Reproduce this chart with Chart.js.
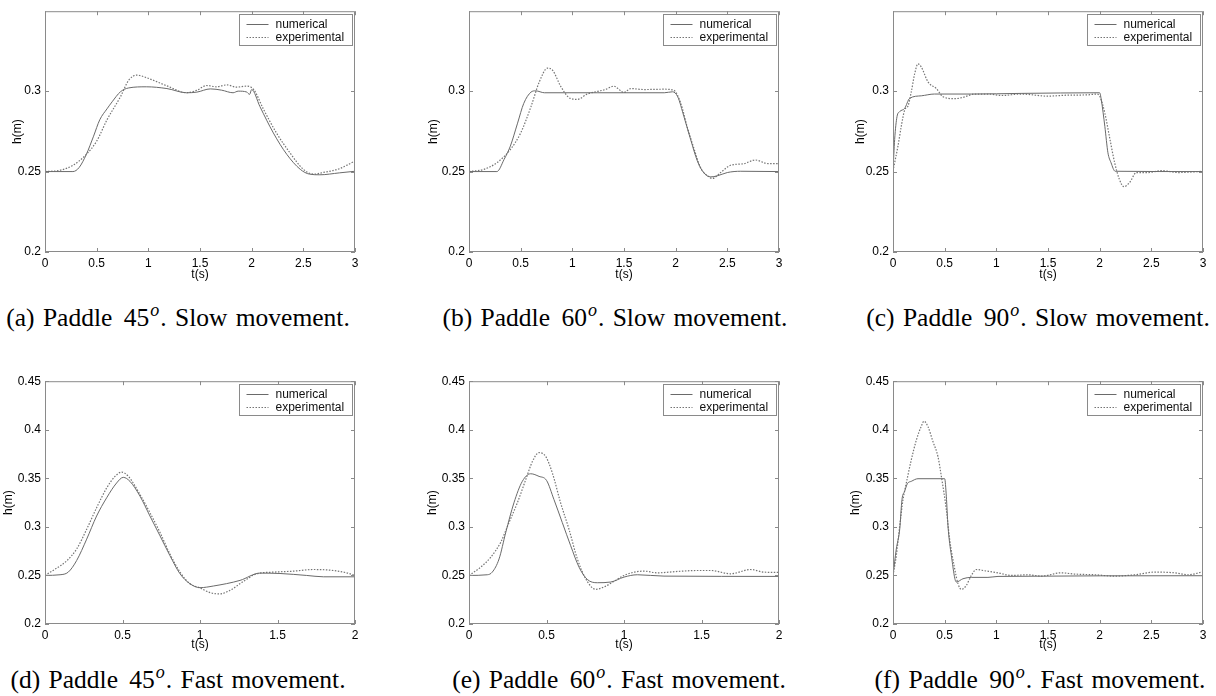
<!DOCTYPE html>
<html>
<head>
<meta charset="utf-8">
<script src="https://cdn.jsdelivr.net/npm/chart.js@4/dist/chart.umd.min.js"></script>
<style>
  body { margin: 0; background: #fff; width: 1216px; height: 696px; position: relative; overflow: hidden; }
  canvas { position: absolute; }
  .cap { position: absolute; font-family: "Liberation Serif", serif; font-size: 25.5px; line-height: 26px;
         word-spacing: 2px; white-space: nowrap; transform: translateX(-50%); color: #000; }
  .cap .num { margin-left: 3px; }
  .cap .deg { font-style: italic; font-size: 18px; position: relative; top: -10px; margin-left: 1px; margin-right: 1px; }
</style>
</head>
<body>
<script>
// wave height h(m) at the gauge, t in seconds
const slow45NumT = [0, 0.27, 0.33, 0.40, 0.47, 0.53, 0.60, 0.65, 0.73, 0.81, 0.98, 1.18, 1.37, 1.47, 1.60, 1.71, 1.82, 1.87, 1.95, 1.98, 2.0, 2.08, 2.21, 2.34, 2.47, 2.56, 2.66, 2.85, 3.0]
const slow45Num = [0.25, 0.25, 0.2525, 0.2607, 0.272, 0.2822, 0.289, 0.2934, 0.2996, 0.302, 0.3027, 0.3016, 0.299, 0.2994, 0.3014, 0.3006, 0.299, 0.3, 0.2995, 0.298, 0.301, 0.2904, 0.274, 0.2607, 0.2514, 0.2484, 0.248, 0.2492, 0.2502]
const slow45ExpT = [0, 0.145, 0.27, 0.40, 0.50, 0.60, 0.73, 0.81, 0.89, 0.98, 1.18, 1.37, 1.47, 1.565, 1.66, 1.76, 1.85, 1.95, 2.02, 2.11, 2.24, 2.37, 2.5, 2.6, 2.69, 2.85, 3.0]
const slow45Exp = [0.25, 0.2508, 0.2539, 0.2607, 0.2689, 0.2822, 0.2965, 0.3068, 0.31, 0.3084, 0.3033, 0.299, 0.3006, 0.3035, 0.3027, 0.3039, 0.3025, 0.3031, 0.301, 0.2893, 0.274, 0.2617, 0.2514, 0.2484, 0.2494, 0.2518, 0.2566]

const slow60NumT = [0, 0.27, 0.34, 0.40, 0.47, 0.53, 0.60, 0.645, 0.73, 1.24, 1.89, 1.97, 2.02, 2.08, 2.145, 2.21, 2.27, 2.34, 2.40, 2.5, 2.63, 3.0]
const slow60Num = [0.25, 0.25, 0.2576, 0.2658, 0.2801, 0.2924, 0.2994, 0.3002, 0.299, 0.299, 0.299, 0.2996, 0.2965, 0.2842, 0.2699, 0.2566, 0.2494, 0.2467, 0.2473, 0.2494, 0.2502, 0.25]
const slow60ExpT = [0, 0.145, 0.27, 0.40, 0.50, 0.60, 0.68, 0.76, 0.81, 0.89, 0.98, 1.05, 1.145, 1.24, 1.32, 1.40, 1.50, 1.565, 1.69, 1.89, 1.98, 2.05, 2.11, 2.18, 2.24, 2.31, 2.355, 2.435, 2.53, 2.66, 2.77, 2.89, 3.0]
const slow60Exp = [0.25, 0.2514, 0.2555, 0.2637, 0.274, 0.2904, 0.3057, 0.3143, 0.3129, 0.3027, 0.2955, 0.2949, 0.2982, 0.2998, 0.301, 0.3031, 0.2992, 0.3016, 0.301, 0.3012, 0.3006, 0.2924, 0.2781, 0.2637, 0.2525, 0.2473, 0.2457, 0.2494, 0.2539, 0.2549, 0.2572, 0.255, 0.255]

const slow90NumT = [0, 0.016, 0.039, 0.065, 0.113, 0.161, 0.274, 0.40, 0.76, 1.24, 2.0, 2.016, 2.05, 2.08, 2.11, 2.15, 3.0]
const slow90Num = [0.25, 0.27, 0.2842, 0.2873, 0.2893, 0.2955, 0.2971, 0.2982, 0.2982, 0.2986, 0.299, 0.2945, 0.2781, 0.2617, 0.2555, 0.2502, 0.25]
const slow90ExpT = [0, 0.016, 0.048, 0.08, 0.113, 0.145, 0.177, 0.21, 0.242, 0.274, 0.339, 0.42, 0.484, 0.597, 0.677, 0.79, 0.919, 1.05, 1.24, 1.5, 1.69, 1.89, 1.97, 2.0, 2.05, 2.10, 2.145, 2.19, 2.235, 2.29, 2.355, 2.47, 2.6, 2.76, 3.0]
const slow90Exp = [0.2504, 0.2555, 0.2658, 0.2781, 0.2883, 0.2908, 0.2996, 0.3109, 0.317, 0.315, 0.3057, 0.3016, 0.2965, 0.2953, 0.2961, 0.2982, 0.2982, 0.2973, 0.2982, 0.2969, 0.2975, 0.2977, 0.2982, 0.2969, 0.2863, 0.2699, 0.2555, 0.2453, 0.2406, 0.2432, 0.2494, 0.2494, 0.2506, 0.2494, 0.2502]

const fast45NumT = [0, 0.097, 0.15, 0.204, 0.269, 0.333, 0.398, 0.462, 0.505, 0.548, 0.613, 0.677, 0.742, 0.806, 0.871, 0.935, 1.0, 1.086, 1.258, 1.387, 1.516, 1.688, 1.796, 2.0]
const fast45Num = [0.25, 0.2507, 0.2534, 0.2653, 0.2874, 0.3112, 0.33, 0.3452, 0.351, 0.3469, 0.3316, 0.3112, 0.2908, 0.2704, 0.2517, 0.2415, 0.2374, 0.2391, 0.2449, 0.2524, 0.252, 0.25, 0.2486, 0.2486]
const fast45ExpT = [0, 0.075, 0.14, 0.204, 0.269, 0.333, 0.398, 0.452, 0.495, 0.538, 0.613, 0.677, 0.742, 0.806, 0.871, 0.935, 1.0, 1.065, 1.129, 1.194, 1.28, 1.366, 1.473, 1.602, 1.731, 1.86, 1.946, 2.0]
const fast45Exp = [0.25, 0.2575, 0.265, 0.2772, 0.2976, 0.3197, 0.3401, 0.352, 0.3564, 0.352, 0.3333, 0.3146, 0.2942, 0.2721, 0.2534, 0.2415, 0.2371, 0.2323, 0.231, 0.2347, 0.2439, 0.2517, 0.2534, 0.2544, 0.2561, 0.2551, 0.2527, 0.25]

const fast60NumT = [0, 0.118, 0.15, 0.194, 0.237, 0.29, 0.344, 0.398, 0.452, 0.5, 0.548, 0.602, 0.656, 0.71, 0.763, 0.828, 0.914, 1.0, 1.086, 1.258, 2.0]
const fast60Num = [0.25, 0.2507, 0.2534, 0.267, 0.2942, 0.3248, 0.3469, 0.3547, 0.352, 0.3479, 0.3282, 0.3044, 0.2806, 0.2585, 0.2459, 0.2425, 0.2432, 0.2483, 0.2507, 0.2493, 0.249]
const fast60ExpT = [0, 0.075, 0.14, 0.204, 0.258, 0.312, 0.366, 0.409, 0.452, 0.495, 0.538, 0.591, 0.645, 0.699, 0.753, 0.817, 0.871, 0.935, 1.0, 1.065, 1.129, 1.215, 1.344, 1.473, 1.559, 1.688, 1.817, 1.903, 2.0]
const fast60Exp = [0.25, 0.2585, 0.2687, 0.284, 0.3044, 0.3248, 0.3486, 0.3673, 0.3765, 0.3724, 0.3554, 0.3248, 0.2976, 0.267, 0.2466, 0.2357, 0.2381, 0.2439, 0.25, 0.2534, 0.2544, 0.2527, 0.2541, 0.2551, 0.2551, 0.2517, 0.2561, 0.2534, 0.2531]

const fast90NumT = [0, 0.032, 0.065, 0.087, 0.113, 0.139, 0.177, 0.242, 0.5, 0.516, 0.532, 0.565, 0.613, 0.677, 0.758, 0.919, 1.016, 3.0]
const fast90Num = [0.25, 0.2772, 0.2976, 0.3282, 0.3367, 0.3445, 0.3469, 0.3496, 0.3496, 0.3316, 0.301, 0.2704, 0.2432, 0.2466, 0.248, 0.248, 0.249, 0.2497]
const fast90ExpT = [0, 0.032, 0.065, 0.097, 0.129, 0.177, 0.226, 0.274, 0.3, 0.339, 0.387, 0.435, 0.468, 0.516, 0.548, 0.597, 0.629, 0.661, 0.71, 0.758, 0.806, 0.887, 1.016, 1.145, 1.306, 1.435, 1.629, 1.758, 1.952, 2.145, 2.339, 2.532, 2.726, 2.855, 3.0]
const fast90Exp = [0.25, 0.2704, 0.301, 0.3282, 0.3452, 0.369, 0.3894, 0.4037, 0.4088, 0.403, 0.3877, 0.3724, 0.352, 0.318, 0.2874, 0.2568, 0.2415, 0.2357, 0.2398, 0.25, 0.2561, 0.2548, 0.2527, 0.25, 0.2507, 0.2493, 0.2527, 0.2514, 0.2507, 0.2493, 0.2507, 0.2534, 0.2527, 0.2507, 0.2537]

// axis ticks
const ticksT3 = [0, 0.5, 1, 1.5, 2, 2.5, 3]
const ticksT2 = [0, 0.5, 1, 1.5, 2]
const ticksHSlow = [0.2, 0.25, 0.3]
const ticksHFast = [0.2, 0.25, 0.3, 0.35, 0.4, 0.45]

const seriesNames = ['numerical', 'experimental']

const LINE = '#6a6a6a'
const DOTS = '#747474'
const FRAME = '#8a8a8a'
const SANS = '"Liberation Sans", Arial, sans-serif'

// box, inward ticks and legend the way the old matlab plots look
const matlabFrame = {
  id: 'matlabFrame',
  afterDraw(chart) {
    const { ctx, chartArea: a, scales } = chart
    ctx.save()
    ctx.strokeStyle = FRAME
    ctx.lineWidth = 1
    ctx.strokeRect(a.left + 0.5, a.top + 0.5, a.width - 1, a.height - 1)
    ctx.beginPath()
    scales.x.ticks.forEach(t => {
      let px = Math.round(scales.x.getPixelForValue(t.value)) + 0.5
      ctx.moveTo(px, a.bottom); ctx.lineTo(px, a.bottom - 4)
      ctx.moveTo(px, a.top); ctx.lineTo(px, a.top + 4)
    })
    scales.y.ticks.forEach(t => {
      let py = Math.round(scales.y.getPixelForValue(t.value)) + 0.5
      ctx.moveTo(a.left, py); ctx.lineTo(a.left + 4, py)
      ctx.moveTo(a.right, py); ctx.lineTo(a.right - 4, py)
    })
    ctx.stroke()

    // legend box
    let bx = Math.round(a.right - 116) + 0.5
    let by = Math.round(a.top + 3) + 0.5
    ctx.fillStyle = '#fff'
    ctx.fillRect(bx, by, 113, 31)
    ctx.strokeRect(bx, by, 113, 31)
    ctx.font = '12px ' + SANS
    ctx.textBaseline = 'middle'
    chart.data.datasets.forEach((ds, i) => {
      let y = Math.round(by + 9 + i * 13.5) + 0.5
      ctx.strokeStyle = ds.borderColor
      ctx.setLineDash(ds.borderDash || [])
      ctx.beginPath()
      ctx.moveTo(bx + 7, y); ctx.lineTo(bx + 29, y)
      ctx.stroke()
      ctx.setLineDash([])
      ctx.fillStyle = '#111'
      ctx.fillText(ds.label, bx + 36, y)
    })
    ctx.restore()
  }
}

function pts(ts, hs) {
  return ts.map((t, i) => ({ x: t, y: hs[i] }))
}

function panel(p) {
  let cv = document.createElement('canvas')
  cv.width = p.w; cv.height = p.h
  cv.style.left = p.left + 'px'; cv.style.top = p.top + 'px'
  document.body.appendChild(cv)

  let cap = document.createElement('div')
  cap.className = 'cap'
  cap.style.left = p.capX + 'px'; cap.style.top = p.capY + 'px'
  cap.innerHTML = `(${p.letter}) Paddle <span class="num">${p.angle}</span><span class="deg">o</span>. ${p.speed} movement.`
  document.body.appendChild(cap)

  let tickFont = { family: SANS, size: 12 }
  new Chart(cv.getContext('2d'), {
    type: 'line',
    data: {
      datasets: [{
        label: seriesNames[0],
        data: pts(p.numT, p.num),
        borderColor: LINE,
        borderWidth: 1
      }, {
        label: seriesNames[1],
        data: pts(p.expT, p.exp),
        borderColor: DOTS,
        borderWidth: 1.2,
        borderDash: [1.5, 1.5]
      }]
    },
    options: {
      responsive: false,
      animation: false,
      parsing: false,
      layout: { padding: { top: p.plotTop, right: p.w - p.plotRight, left: 0, bottom: 0 } },
      elements: { point: { radius: 0 }, line: { cubicInterpolationMode: 'monotone' } },
      plugins: { legend: { display: false }, tooltip: { enabled: false } },
      scales: {
        x: {
          type: 'linear', min: 0, max: p.xTicks[p.xTicks.length - 1],
          grid: { display: false, drawTicks: false },
          border: { display: false },
          afterBuildTicks: s => { s.ticks = p.xTicks.map(v => ({ value: v })) },
          afterFit: s => { s.height = p.h - p.plotBottom },
          ticks: { color: '#000', font: tickFont, padding: 4, maxRotation: 0, callback: v => String(v) },
          title: { display: true, text: 't(s)', color: '#000', font: tickFont, padding: { top: 0, bottom: 3 } }
        },
        y: {
          type: 'linear', min: 0.2, max: p.yMax,
          grid: { display: false, drawTicks: false },
          border: { display: false },
          afterBuildTicks: s => { s.ticks = p.yTicks.map(v => ({ value: v })) },
          afterFit: s => { s.width = p.plotLeft },
          ticks: { color: '#000', font: tickFont, padding: 4, callback: v => String(v) },
          title: { display: true, text: 'h(m)', color: '#000', font: tickFont, padding: { top: p.hmPad, bottom: 0 } }
        }
      }
    },
    plugins: [matlabFrame]
  })
}

window.onload = function () {
  let top = { top: 0, h: 285, plotTop: 8, plotBottom: 252, yMax: 0.3497, yTicks: ticksHSlow, capY: 305, speed: 'Slow' }
  let bot = { top: 370, h: 285, plotTop: 10, plotBottom: 254, yMax: 0.45, yTicks: ticksHFast, capY: 667, speed: 'Fast' }

  panel({ ...top, letter: 'a', angle: 45, left: 0, w: 400, plotLeft: 45, plotRight: 355, hmPad: 10, capX: 178,
    xTicks: ticksT3, numT: slow45NumT, num: slow45Num, expT: slow45ExpT, exp: slow45Exp })
  panel({ ...top, letter: 'b', angle: 60, left: 400, w: 400, plotLeft: 69, plotRight: 379, hmPad: 26, capX: 615,
    xTicks: ticksT3, numT: slow60NumT, num: slow60Num, expT: slow60ExpT, exp: slow60Exp })
  panel({ ...top, letter: 'c', angle: 90, left: 800, w: 416, plotLeft: 93, plotRight: 403, hmPad: 53, capX: 1038,
    xTicks: ticksT3, numT: slow90NumT, num: slow90Num, expT: slow90ExpT, exp: slow90Exp })

  panel({ ...bot, letter: 'd', angle: 45, left: 0, w: 400, plotLeft: 45, plotRight: 355, hmPad: 1, capX: 178,
    xTicks: ticksT2, numT: fast45NumT, num: fast45Num, expT: fast45ExpT, exp: fast45Exp })
  panel({ ...bot, letter: 'e', angle: 60, left: 400, w: 400, plotLeft: 69, plotRight: 379, hmPad: 25, capX: 619,
    xTicks: ticksT2, numT: fast60NumT, num: fast60Num, expT: fast60ExpT, exp: fast60Exp })
  panel({ ...bot, letter: 'f', angle: 90, left: 800, w: 416, plotLeft: 93, plotRight: 403, hmPad: 48, capX: 1040,
    xTicks: ticksT3, numT: fast90NumT, num: fast90Num, expT: fast90ExpT, exp: fast90Exp })
}
</script>
</body>
</html>
